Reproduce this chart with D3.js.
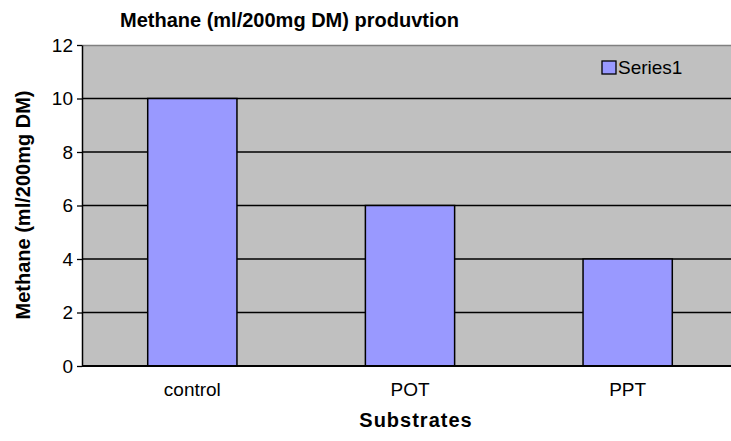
<!DOCTYPE html>
<html><head><meta charset="utf-8">
<script src="https://cdn.jsdelivr.net/npm/d3@7"></script>
<style>body{margin:0;background:#fff}svg{display:block;font-family:Arial,"Liberation Sans",sans-serif}</style>
</head><body><svg id="c" width="731" height="441"></svg>
<script>
const categories = ["control", "POT", "PPT"];
const values = [10, 6, 4];
const yTicks = [0, 2, 4, 6, 8, 10, 12];
const seriesName = "Series1";
const titleText = "Methane (ml/200mg DM) produvtion";
const yTitle = "Methane (ml/200mg DM)";
const xTitle = "Substrates";

const svg = d3.select("#c");
const L = 82, T = 45, B = 366, R = 731;
const x = d3.scaleBand().domain(categories).range([83.5, 736.5]).paddingInner(0.59).paddingOuter(0.295);
const y = d3.scaleLinear().domain([0, 12]).range([B, T]);

svg.append("rect").attr("x", L).attr("y", T).attr("width", R - L).attr("height", B - T).attr("fill", "#c0c0c0");
svg.append("line").attr("x1", L).attr("x2", R).attr("y1", T + 0.5).attr("y2", T + 0.5).attr("stroke", "#808080").attr("stroke-width", 1.5);

svg.append("g").selectAll("line").data(yTicks.filter(d => d > 0 && d < 12)).join("line")
  .attr("x1", L).attr("x2", R).attr("y1", d => y(d)).attr("y2", d => y(d))
  .attr("stroke", "#000").attr("stroke-width", 1.3);

svg.append("g").selectAll("rect").data(values).join("rect")
  .attr("x", (d, i) => x(categories[i])).attr("width", x.bandwidth())
  .attr("y", d => y(d)).attr("height", d => y(0) - y(d))
  .attr("fill", "#9999ff").attr("stroke", "#000").attr("stroke-width", 1.5);

const ya = svg.append("g").attr("transform", `translate(${L},0)`)
  .call(d3.axisLeft(y).tickValues(yTicks).tickSize(5).tickPadding(4).tickSizeOuter(0));
ya.select(".domain").attr("stroke", "#000").attr("stroke-width", 1.5);
ya.selectAll(".tick line").attr("stroke", "#000").attr("stroke-width", 1.3);
ya.selectAll("text").attr("font-size", 19).attr("fill", "#000").attr("font-family", "Arial, 'Liberation Sans', sans-serif");

const xa = svg.append("g").attr("transform", `translate(0,${B})`)
  .call(d3.axisBottom(x).tickSize(0).tickPadding(17));
xa.select(".domain").attr("d", `M${L},0H${R}`).attr("stroke", "#000").attr("stroke-width", 2);
xa.selectAll("text").attr("font-size", 19).attr("fill", "#000").attr("font-family", "Arial, 'Liberation Sans', sans-serif");

svg.append("text").attr("x", 120).attr("y", 27).attr("font-size", 20).attr("font-weight", "bold").text(titleText);
svg.append("text").attr("transform", "translate(30,205) rotate(-90)").attr("text-anchor", "middle")
  .attr("font-size", 20).attr("font-weight", "bold").text(yTitle);
svg.append("text").attr("x", 416).attr("y", 427).attr("text-anchor", "middle")
  .attr("font-size", 20).attr("font-weight", "bold").attr("letter-spacing", 1).text(xTitle);

const lg = svg.append("g");
lg.append("rect").attr("x", 602).attr("y", 61).attr("width", 14).attr("height", 13)
  .attr("fill", "#9999ff").attr("stroke", "#000").attr("stroke-width", 1.3);
lg.append("text").attr("x", 618).attr("y", 74).attr("font-size", 19).text(seriesName);
</script></body></html>
